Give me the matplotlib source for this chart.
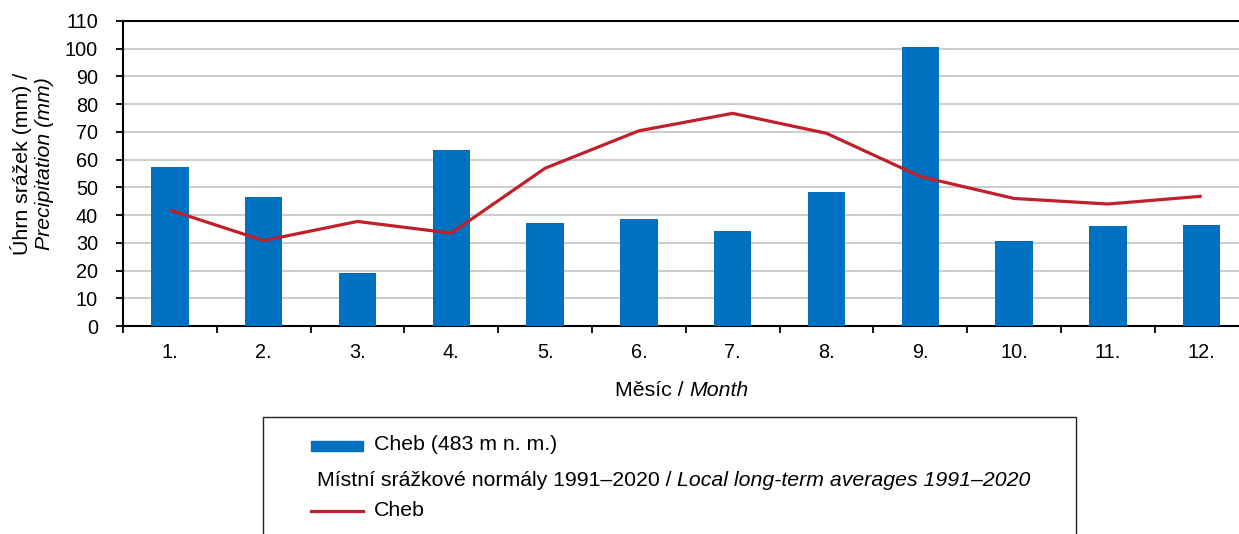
import numpy as np
import matplotlib.pyplot as plt
from matplotlib.patches import Rectangle
from matplotlib.lines import Line2D

plt.rcParams['font.family'] = ['Liberation Sans', 'DejaVu Sans']

# monthly data
months = ['1.', '2.', '3.', '4.', '5.', '6.', '7.', '8.', '9.', '10.', '11.', '12.']
cheb_precip = [57.3, 46.6, 19.0, 63.3, 37.1, 38.5, 34.4, 48.2, 100.6, 30.5, 36.1, 36.3]
cheb_normal = [41.8, 30.8, 37.7, 33.5, 56.9, 70.4, 76.7, 69.5, 53.9, 46.0, 44.0, 46.8]

W, H = 1239, 534
fig = plt.figure(figsize=(W / 100, H / 100), dpi=100)

# plot area (pixel based), right part runs off the image like in the original
left, top, bottom = 123, 21, 326
width = 12 * 93.8
ax = fig.add_axes([left / W, 1 - bottom / H, width / W, (bottom - top) / H])

x = np.arange(len(months))
blue = '#0070C0'
red = '#C0202A'

ax.bar(x, cheb_precip, width=0.4, color=blue, zorder=3)
ax.plot(x, cheb_normal, color=red, lw=2.3, zorder=4, solid_capstyle='butt')

ax.set_xlim(-0.5, 11.5)
ax.set_ylim(0, 110)
ax.set_yticks(np.arange(0, 111, 10))
ax.grid(axis='y', color='#c8c8c8', lw=1.3, zorder=0)

# category boundaries get the tick marks, centres get the labels
ax.set_xticks(np.arange(-0.5, 12, 1))
ax.set_xticklabels([])
ax.set_xticks(x, minor=True)
ax.set_xticklabels(months, minor=True)
ax.tick_params(axis='x', which='major', direction='out', length=5, width=1.3, color='black')
ax.tick_params(axis='x', which='minor', length=0, pad=12, labelsize=14.3)
ax.tick_params(axis='y', direction='out', length=5, width=1.3, pad=13, labelsize=14.3)

for s in ['left', 'bottom', 'top']:
    ax.spines[s].set_color('black')
    ax.spines[s].set_linewidth(1.5)
ax.spines['right'].set_visible(False)

fs = 15.3

# axis titles with italic English parts
fig.text(21 / W, 1 - 164 / H, 'Úhrn srážek (mm) /', rotation=90, ha='center', va='center', fontsize=fs)
fig.text(45 / W, 1 - 164 / H, 'Precipitation (mm)', rotation=90, ha='center', va='center',
         fontsize=fs, style='italic')
t = fig.text(615 / W, 1 - 390 / H, 'Měsíc /', ha='left', va='center', fontsize=fs)
ax.annotate('Month', xy=(1, 0), xycoords=t, xytext=(4.3, 0), textcoords='offset points',
            ha='left', va='bottom', fontsize=fs, style='italic', annotation_clip=False)

# legend box drawn by hand
fig.patches.append(Rectangle((263 / W, -0.05), (1076 - 263) / W, 1 - 417 / H + 0.05,
                             transform=fig.transFigure, fill=False, ec='#222222', lw=1.0))
fig.patches.append(Rectangle((311 / W, 1 - 451 / H), 52 / W, 10 / H,
                             transform=fig.transFigure, color=blue))
fig.text(374 / W, 1 - 444 / H, 'Cheb (483 m n. m.)', ha='left', va='center', fontsize=fs)
m = fig.text(317 / W, 1 - 481 / H, 'Místní srážkové normály 1991–2020 /', ha='left', va='center',
             fontsize=fs)
ax.annotate('Local long-term averages 1991–2020', xy=(1, 0), xycoords=m, xytext=(4.3, 0),
            textcoords='offset points', ha='left', va='bottom', fontsize=fs, style='italic',
            annotation_clip=False)
fig.lines.append(Line2D([311 / W, 363 / W], [1 - 511 / H, 1 - 511 / H],
                        transform=fig.transFigure, color=red, lw=2.3))
fig.text(374 / W, 1 - 510 / H, 'Cheb', ha='left', va='center', fontsize=fs)

fig.savefig('out.png', dpi=100)
